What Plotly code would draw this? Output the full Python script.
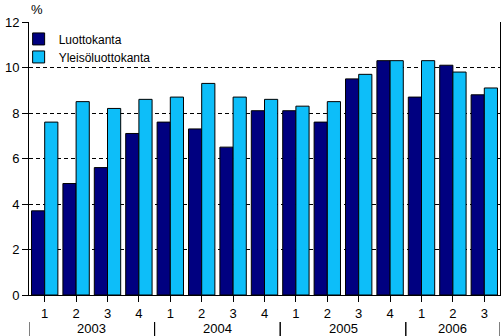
import plotly.graph_objects as go

# Quarterly loan stock growth, %
years = ["2003", "2003", "2003", "2003",
         "2004", "2004", "2004", "2004",
         "2005", "2005", "2005", "2005",
         "2006", "2006", "2006"]
quarters = ["1", "2", "3", "4",
            "1", "2", "3", "4",
            "1", "2", "3", "4",
            "1", "2", "3"]
luottokanta = [3.7, 4.9, 5.6, 7.1, 7.6, 7.3, 6.5, 8.1, 8.1, 7.6, 9.5, 10.3, 8.7, 10.1, 8.8]
yleisoluottokanta = [7.6, 8.5, 8.2, 8.6, 8.7, 9.3, 8.7, 8.6, 8.3, 8.5, 9.7, 10.3, 10.3, 9.8, 9.1]

periods = [f"{y}/{q}" for y, q in zip(years, quarters)]

FONT = "Liberation Sans, Arial, sans-serif"
TICK_SIZE = 13

fig = go.Figure()
fig.add_trace(go.Bar(
    x=periods, y=luottokanta, name="Luottokanta", legend="legend",
    marker=dict(color="#000080", line=dict(color="black", width=1)),
))
fig.add_trace(go.Bar(
    x=periods, y=yleisoluottokanta, name="Yleisöluottokanta", legend="legend2",
    marker=dict(color="#0DBEF9", line=dict(color="black", width=1)),
))

# Year group labels and separators beneath the quarter labels
shapes = []
annotations = []
unique_years = list(dict.fromkeys(years))
for yr in unique_years:
    idx = [i for i, y in enumerate(years) if y == yr]
    lo, hi = idx[0] - 0.5, idx[-1] + 0.5
    annotations.append(dict(
        x=(lo + hi) / 2, y=-0.121, xref="x", yref="paper",
        text=yr, showarrow=False,
        font=dict(size=TICK_SIZE, color="black", family=FONT),
        xanchor="center", yanchor="middle",
    ))
    for xb in (lo, hi):
        shapes.append(dict(
            type="line", xref="x", yref="paper", x0=xb, x1=xb, y0=-0.099, y1=-0.16,
            line=dict(color="black", width=1),
        ))

annotations.append(dict(
    x=0, y=1.044, xref="paper", yref="paper", text="%", showarrow=False,
    xanchor="left", yanchor="middle", xshift=0,
    font=dict(size=TICK_SIZE, color="black", family=FONT),
))

legend_common = dict(
    xanchor="left", yanchor="middle",
    bgcolor="rgba(0,0,0,0)", borderwidth=0,
    font=dict(size=12, family=FONT, color="black"),
    itemclick=False, itemdoubleclick=False,
)

fig.update_layout(
    width=501, height=336,
    margin=dict(l=29, r=1, t=22, b=41),
    paper_bgcolor="white", plot_bgcolor="white",
    barmode="group", bargap=0.16, bargroupgap=0,
    font=dict(family=FONT, size=TICK_SIZE, color="black"),
    showlegend=True,
    legend=dict(x=-0.022, y=0.938, **legend_common),
    legend2=dict(x=-0.022, y=0.872, **legend_common),
    shapes=shapes,
    annotations=annotations,
)
fig.update_xaxes(
    type="category", range=[-0.5, len(periods) - 0.5],
    tickmode="array", tickvals=periods, ticktext=quarters,
    showline=True, linecolor="black", linewidth=1,
    ticks="outside", ticklen=6, tickcolor="black",
    showgrid=False, tickfont=dict(size=TICK_SIZE, color="black"),
)
fig.update_yaxes(
    range=[0, 12], dtick=2, tick0=0,
    showline=True, linecolor="black", linewidth=1, mirror=True,
    ticks="outside", ticklen=6, tickcolor="black",
    showgrid=True, gridcolor="black", gridwidth=1, griddash="4px,3px",
    zeroline=False, tickfont=dict(size=TICK_SIZE, color="black"),
)

fig.write_html("out.html")
